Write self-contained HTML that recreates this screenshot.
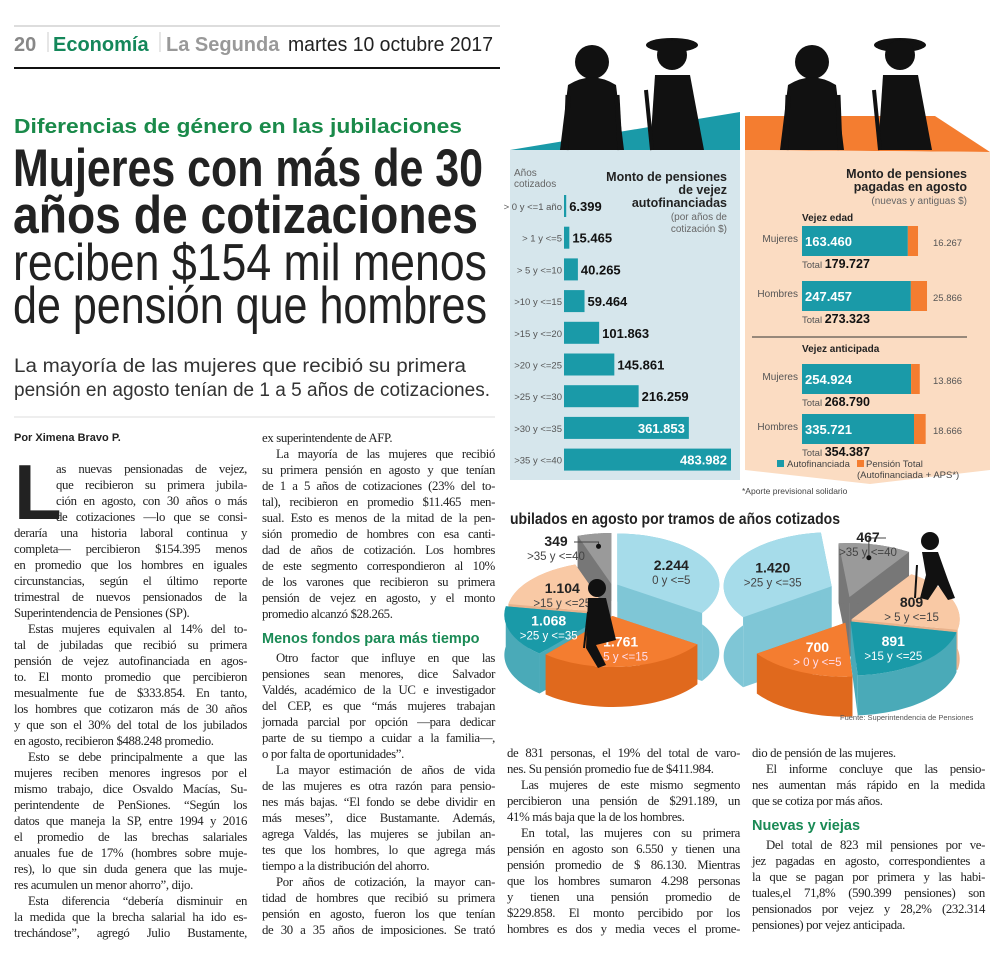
<!DOCTYPE html>
<html><head><meta charset="utf-8">
<style>
html,body{margin:0;padding:0;background:#fff;}
body{width:1000px;height:959px;position:relative;overflow:hidden;font-family:"Liberation Serif",serif;}
.col{position:absolute;font-family:"Liberation Serif",serif;font-size:12.8px;letter-spacing:-0.35px;line-height:16px;color:#222;}
.col div{white-space:nowrap;text-align:justify;text-align-last:justify;height:16px;}
.col div.l{text-align-last:left;}
.col div.i{text-indent:14px;}
.sub{font-family:"Liberation Sans",sans-serif;font-weight:bold;color:#1a8a55;font-size:14.5px;letter-spacing:0;text-align-last:left !important;height:22px !important;line-height:22px;}
svg text{font-family:"Liberation Sans",sans-serif;}
</style></head>
<body>
<svg width="500" height="420" style="position:absolute;left:0;top:0">
<line x1="14" y1="26" x2="985" y2="26" stroke="#bbb" stroke-width="1"/>
<text x="14" y="51" font-size="20" font-weight="bold" fill="#888">20</text>
<line x1="48" y1="32" x2="48" y2="52" stroke="#ccc"/>
<text x="53" y="51" font-size="20" font-weight="bold" fill="#14875a">Economía</text>
<line x1="160" y1="32" x2="160" y2="52" stroke="#ccc"/>
<text x="166" y="51" font-size="20" font-weight="bold" fill="#999">La Segunda</text>
<text x="288" y="51" font-size="20" fill="#222" textLength="205" lengthAdjust="spacingAndGlyphs">martes 10 octubre 2017</text>
<line x1="14" y1="68" x2="500" y2="68" stroke="#111" stroke-width="2"/>
<text x="14" y="133" font-size="20" font-weight="bold" fill="#1a8a4a" textLength="448" lengthAdjust="spacingAndGlyphs">Diferencias de género en las jubilaciones</text>
<text x="13" y="186" font-size="53" font-weight="bold" fill="#222" textLength="470" lengthAdjust="spacingAndGlyphs">Mujeres con más de 30</text>
<text x="13" y="233" font-size="53" font-weight="bold" fill="#222" textLength="465" lengthAdjust="spacingAndGlyphs">años de cotizaciones</text>
<text x="13" y="280" font-size="52" fill="#222" textLength="474" lengthAdjust="spacingAndGlyphs">reciben $154 mil menos</text>
<text x="13" y="323" font-size="52" fill="#222" textLength="474" lengthAdjust="spacingAndGlyphs">de pensión que hombres</text>
<text x="14" y="372" font-size="19" fill="#333" textLength="452" lengthAdjust="spacingAndGlyphs">La mayoría de las mujeres que recibió su primera</text>
<text x="14" y="396" font-size="19" fill="#333" textLength="476" lengthAdjust="spacingAndGlyphs">pensión en agosto tenían de 1 a 5 años de cotizaciones.</text>
<line x1="14" y1="417" x2="495" y2="417" stroke="#ddd"/>
</svg>

<div class="col" style="left:14px;top:430px;width:233px">
<div class="l" style="font-family:'Liberation Sans',sans-serif;font-weight:bold;font-size:11px;letter-spacing:0">Por Ximena Bravo P.</div>
<div style="height:15px"></div>
<span style="position:absolute;left:0;top:29px;font-family:'Liberation Sans',sans-serif;font-weight:bold;font-size:78px;line-height:66px;letter-spacing:0;color:#222">L</span>
<div style="margin-left:42px">as nuevas pensionadas de vejez,</div>
<div style="margin-left:42px">que recibieron su primera jubila-</div>
<div style="margin-left:42px">ción en agosto, con 30 años o más</div>
<div style="margin-left:42px">de cotizaciones —lo que se consi-</div>
<div>deraría una historia laboral continua y</div>
<div>completa— percibieron $154.395 menos</div>
<div>en promedio que los hombres en iguales</div>
<div>circunstancias, según el último reporte</div>
<div>trimestral de nuevos pensionados de la</div>
<div class="l">Superintendencia de Pensiones (SP).</div>
<div class="i">Estas mujeres equivalen al 14% del to-</div>
<div>tal de jubiladas que recibió su primera</div>
<div>pensión de vejez autofinanciada en agos-</div>
<div>to. El monto promedio que percibieron</div>
<div>mesualmente fue de $333.854. En tanto,</div>
<div>los hombres que cotizaron más de 30 años</div>
<div>y que son el 30% del total de los jubilados</div>
<div class="l">en agosto, recibieron $488.248 promedio.</div>
<div class="i">Esto se debe principalmente a que las</div>
<div>mujeres reciben menores ingresos por el</div>
<div>mismo trabajo, dice Osvaldo Macías, Su-</div>
<div>perintendente de PenSiones. “Según los</div>
<div>datos que maneja la SP, entre 1994 y 2016</div>
<div>el promedio de las brechas salariales</div>
<div>anuales fue de 17% (hombres sobre muje-</div>
<div>res), lo que sin duda genera que las muje-</div>
<div class="l">res acumulen un menor ahorro”, dijo.</div>
<div class="i">Esta diferencia “debería disminuir en</div>
<div>la medida que la brecha salarial ha ido es-</div>
<div>trechándose”, agregó Julio Bustamente,</div>
</div>

<div class="col" style="left:262px;top:430px;width:233px">
<div class="l">ex superintendente de AFP.</div>
<div class="i">La mayoría de las mujeres que recibió</div>
<div>su primera pensión en agosto y que tenían</div>
<div>de 1 a 5 años de cotizaciones (23% del to-</div>
<div>tal), recibieron en promedio $11.465 men-</div>
<div>sual. Esto es menos de la mitad de la pen-</div>
<div>sión promedio de hombres con esa canti-</div>
<div>dad de años de cotización. Los hombres</div>
<div>de este segmento correspondieron al 10%</div>
<div>de los varones que recibieron su primera</div>
<div>pensión de vejez en agosto, y el monto</div>
<div class="l">promedio alcanzó $28.265.</div>
<div class="sub" style="margin-top:6px">Menos fondos para más tiempo</div>
<div class="i">Otro factor que influye en que las</div>
<div>pensiones sean menores, dice Salvador</div>
<div>Valdés, académico de la UC e investigador</div>
<div>del CEP, es que “más mujeres trabajan</div>
<div>jornada parcial por opción —para dedicar</div>
<div>parte de su tiempo a cuidar a la familia—,</div>
<div class="l">o por falta de oportunidades”.</div>
<div class="i">La mayor estimación de años de vida</div>
<div>de las mujeres es otra razón para pensio-</div>
<div>nes más bajas. “El fondo se debe dividir en</div>
<div>más meses”, dice Bustamante. Además,</div>
<div>agrega Valdés, las mujeres se jubilan an-</div>
<div>tes que los hombres, lo que agrega más</div>
<div class="l">tiempo a la distribución del ahorro.</div>
<div class="i">Por años de cotización, la mayor can-</div>
<div>tidad de hombres que recibió su primera</div>
<div>pensión en agosto, fueron los que tenían</div>
<div>de 30 a 35 años de imposiciones. Se trató</div>
</div>

<div class="col" style="left:507px;top:745px;width:233px">
<div>de 831 personas, el 19% del total de varo-</div>
<div class="l">nes. Su pensión promedio fue de $411.984.</div>
<div class="i">Las mujeres de este mismo segmento</div>
<div>percibieron una pensión de $291.189, un</div>
<div class="l">41% más baja que la de los hombres.</div>
<div class="i">En total, las mujeres con su primera</div>
<div>pensión en agosto son 6.550 y tienen una</div>
<div>pensión promedio de $ 86.130. Mientras</div>
<div>que los hombres sumaron 4.298 personas</div>
<div>y tienen una pensión promedio de</div>
<div>$229.858. El monto percibido por los</div>
<div>hombres es dos y media veces el prome-</div>
</div>

<div class="col" style="left:752px;top:745px;width:233px">
<div class="l">dio de pensión de las mujeres.</div>
<div class="i">El informe concluye que las pensio-</div>
<div>nes aumentan más rápido en la medida</div>
<div class="l">que se cotiza por más años.</div>
<div class="sub" style="margin-top:6px">Nuevas y viejas</div>
<div class="i">Del total de 823 mil pensiones por ve-</div>
<div>jez pagadas en agosto, correspondientes a</div>
<div>la que se pagan por primera y las habi-</div>
<div>tuales,el 71,8% (590.399 pensiones) son</div>
<div>pensionados por vejez y 28,2% (232.314</div>
<div class="l">pensiones) por vejez anticipada.</div>
</div>

<svg id="chart" width="1000" height="740" style="position:absolute;left:0;top:0">
<polygon points="510,150 740,112 740,150" fill="#1a9aa8"/>
<polygon points="745,150 745,116 935,116 990,152" fill="#f47d30"/>
<rect x="510" y="150" width="230" height="330" fill="#d6e6ec"/>
<polygon points="745,150 990,152 990,470 870,484 745,470" fill="#fbdcc2"/>
<g fill="#111" stroke="#111">
 <circle cx="592" cy="62" r="17" stroke="none"/>
 <path d="M568,85 Q592,70 616,85 L624,150 L560,150 Z" stroke="none"/>
 <line x1="568" y1="95" x2="566" y2="150" stroke-width="5"/>
 <line x1="617" y1="95" x2="620" y2="150" stroke-width="5"/>
 <ellipse cx="672" cy="45" rx="26" ry="7" stroke="none"/>
 <circle cx="672" cy="55" r="15" stroke="none"/>
 <path d="M655,75 L690,75 L704,150 L650,150 Z" stroke="none"/>
 <line x1="646" y1="90" x2="652" y2="150" stroke-width="4"/>
 <circle cx="812" cy="62" r="17" stroke="none"/>
 <path d="M788,85 Q812,70 836,85 L844,150 L780,150 Z" stroke="none"/>
 <line x1="788" y1="95" x2="786" y2="150" stroke-width="5"/>
 <line x1="838" y1="95" x2="840" y2="150" stroke-width="5"/>
 <ellipse cx="900" cy="45" rx="26" ry="7" stroke="none"/>
 <circle cx="900" cy="55" r="15" stroke="none"/>
 <path d="M883,75 L918,75 L932,150 L878,150 Z" stroke="none"/>
 <line x1="874" y1="90" x2="880" y2="150" stroke-width="4"/>
</g>
<text x="514" y="176" font-size="10" fill="#666">Años</text>
<text x="514" y="187" font-size="10" fill="#666">cotizados</text>
<g text-anchor="end">
<text x="727" y="181" font-size="12.5" font-weight="bold" fill="#222">Monto de pensiones</text>
<text x="727" y="194" font-size="12.5" font-weight="bold" fill="#222">de vejez</text>
<text x="727" y="207" font-size="12.5" font-weight="bold" fill="#222">autofinanciadas</text>
<text x="727" y="220" font-size="10" fill="#666">(por años de</text>
<text x="727" y="232" font-size="10" fill="#666">cotización $)</text>
</g>
<g id="bars"></g>
<g text-anchor="end">
<text x="967" y="178" font-size="12.5" font-weight="bold" fill="#222">Monto de pensiones</text>
<text x="967" y="191" font-size="12.5" font-weight="bold" fill="#222">pagadas en agosto</text>
<text x="967" y="204" font-size="10" fill="#666">(nuevas y antiguas $)</text>
</g>
<text x="802" y="221" font-size="10" font-weight="bold" fill="#222">Vejez edad</text>
<line x1="752" y1="337" x2="967" y2="337" stroke="#333"/>
<text x="802" y="352" font-size="10" font-weight="bold" fill="#222">Vejez anticipada</text>
<g id="stack"></g>
<g>
<rect x="777" y="460" width="7" height="7" fill="#1a9aa8"/>
<text x="787" y="467" font-size="9.5" fill="#444">Autofinanciada</text>
<rect x="857" y="460" width="7" height="7" fill="#f47d30"/>
<text x="866" y="467" font-size="9.5" fill="#444">Pensión Total</text>
<text x="857" y="478" font-size="9.5" fill="#444">(Autofinanciada + APS*)</text>
</g>
<text x="742" y="494" font-size="8.5" fill="#444">*Aporte previsional solidario</text>
<text x="510" y="524" font-size="16" font-weight="bold" fill="#222" textLength="330" lengthAdjust="spacingAndGlyphs">ubilados en agosto por tramos de años cotizados</text>
<g id="pies"></g>
<g fill="#111" stroke="#111">
 <circle cx="597" cy="588" r="9" stroke="none"/>
 <path d="M588,598 L606,598 L616,640 L596,645 L606,665 L598,668 L586,648 Z" stroke="none"/>
 <line x1="588" y1="612" x2="584" y2="648" stroke-width="2"/>
 <circle cx="930" cy="541" r="9" stroke="none"/>
 <path d="M922,552 L938,552 L948,580 L955,598 L948,600 L938,585 L928,600 L920,598 L926,575 Z" stroke="none"/>
 <line x1="917" y1="565" x2="915" y2="598" stroke-width="2"/>
</g>
<text x="840" y="720" font-size="7.5" fill="#555">Fuente: Superintendencia de Pensiones</text>
</svg>

<script>
// Bar chart data
var barCats = ["> 0 y <=1 año", "> 1 y <=5", "> 5 y <=10", ">10 y <=15", ">15 y <=20", ">20 y <=25", ">25 y <=30", ">30 y <=35", ">35 y <=40"];
var barVals = [6399, 15465, 40265, 59464, 101863, 145861, 216259, 361853, 483982];
var barLabels = ["6.399", "15.465", "40.265", "59.464", "101.863", "145.861", "216.259", "361.853", "483.982"];
// Stacked bars data
var groupNames = ["Mujeres", "Hombres", "Mujeres", "Hombres"];
var autofin = [163460, 247457, 254924, 335721];
var autofinLabels = ["163.460", "247.457", "254.924", "335.721"];
var aps = [16267, 25866, 13866, 18666];
var apsLabels = ["16.267", "25.866", "13.866", "18.666"];
var totalLabels = ["179.727", "273.323", "268.790", "354.387"];
// Pie data
var womenCats = ["0 y <=5", "> 5 y <=15", ">25 y <=35", ">15 y <=25", ">35 y <=40"];
var womenVals = [2244, 1761, 1068, 1104, 349];
var womenLabels = ["2.244", "1.761", "1.068", "1.104", "349"];
var menCats = [">35 y <=40", "> 5 y <=15", ">15 y <=25", "> 0 y <=5", ">25 y <=35"];
var menVals = [467, 809, 891, 700, 1420];
var menLabels = ["467", "809", "891", "700", "1.420"];

var NS = "http://www.w3.org/2000/svg";
function mk(tag, attrs, parent, txt) {
  var e = document.createElementNS(NS, tag);
  for (var k in attrs) e.setAttribute(k, attrs[k]);
  if (txt !== undefined) e.textContent = txt;
  parent.appendChild(e);
  return e;
}

// ---- horizontal bars
var bars = document.getElementById("bars");
var bx0 = 564, bw = 167;
var bmax = Math.max.apply(null, barVals);
function xBar(v) { return bw * v / bmax; }
function yBar(i) { return 206 + i * 31.7; }
for (var i = 0; i < barVals.length; i++) {
  var w = Math.max(2, xBar(barVals[i]));
  var r = mk("rect", {x: bx0, y: yBar(i) - 11, width: w, height: 22, fill: "#1a9aa8"}, bars);
  
  
  var lt = mk("text", {x: bx0 - 2, y: yBar(i) + 4, "font-size": 9.5, fill: "#555", "text-anchor": "end"}, bars, barCats[i]);
  
  
  var inside = w > 110;
  var vt = mk("text", {x: inside ? bx0 + w - 4 : bx0 + w + 3, y: yBar(i) + 5, "font-size": 13, "font-weight": "bold", fill: inside ? "#fff" : "#111", "text-anchor": inside ? "end" : "start"}, bars, barLabels[i]);
  
  
}

// ---- stacked bars
var st = document.getElementById("stack");
var sx0 = 802;
var amax = Math.max.apply(null, autofin);
function wAuto(v) { return 100 + 12 * v / amax; }
function wAps(v) { return v / 1600; }
var sy = [226, 281, 364, 414];
for (var j = 0; j < autofin.length; j++) {
  var wa = wAuto(autofin[j]), wp = wAps(aps[j]);
  var ra = mk("rect", {x: sx0, y: sy[j], width: wa, height: 30, fill: "#1a9aa8"}, st);
  
  
  var rp = mk("rect", {x: sx0 + wa, y: sy[j], width: wp, height: 30, fill: "#f47d30"}, st);
  
  
  var gl = mk("text", {x: sx0 - 4, y: sy[j] + 16, "font-size": 10, fill: "#555", "text-anchor": "end"}, st, groupNames[j]);
  
  
  var av = mk("text", {x: sx0 + 3, y: sy[j] + 20, "font-size": 13, "font-weight": "bold", fill: "#fff"}, st, autofinLabels[j]);
  
  
  var pv = mk("text", {x: 933, y: sy[j] + 20, "font-size": 9.5, fill: "#555"}, st, apsLabels[j]);
  
  
  var tt = mk("text", {x: sx0, y: sy[j] + 42, "font-size": 12.5, "font-weight": "bold", fill: "#111"}, st);
  
  
  mk("tspan", {"font-size": 9.5, "font-weight": "normal", fill: "#555"}, tt, "Total ");
  mk("tspan", {}, tt, totalLabels[j]);
}

// ---- 3D pies
var pies = document.getElementById("pies");
function drawPie(cx, cy, R, k, depth, vals, labels, cats, tops, sides, start, lifts, explode, txtCols, name, smallPos) {
  var g = mk("g", {}, pies);
  
  
  var tot = vals.reduce(function (a, b) { return a + b; }, 0);
  var sl = [], a = start;
  for (var i = 0; i < vals.length; i++) {
    var sweep = vals[i] / tot * Math.PI * 2;
    sl.push({i: i, a0: a, a1: a + sweep, m: a + sweep / 2});
    a += sweep;
  }
  var order = sl.slice().sort(function (p, q) { return Math.sin(p.m) - Math.sin(q.m); });
  order.forEach(function (s) {
    var i = s.i;
    var ox = explode[i] * Math.cos(s.m), oy = explode[i] * k * Math.sin(s.m);
    var zt = -lifts[i], zb = depth;
    function P(ang, rr, z) { return [cx + ox + rr * Math.cos(ang), cy + oy + rr * k * Math.sin(ang) + z]; }
    var sg = mk("g", {}, g);
    
    
    [s.a0, s.a1].forEach(function (ang) {
      var c1 = P(ang, 0, zt), c2 = P(ang, R, zt), c3 = P(ang, R, zb), c4 = P(ang, 0, zb);
      mk("polygon", {points: [c1, c2, c3, c4].map(function (p) { return p.join(","); }).join(" "), fill: sides[i]}, sg);
    });
    var n = 40, pts = [], j;
    for (j = 0; j <= n; j++) pts.push(P(s.a0 + (s.a1 - s.a0) * j / n, R, zt));
    for (j = n; j >= 0; j--) pts.push(P(s.a0 + (s.a1 - s.a0) * j / n, R, zb));
    mk("polygon", {points: pts.map(function (p) { return p.join(","); }).join(" "), fill: sides[i]}, sg);
    var tp = [P(0, 0, zt)];
    for (j = 0; j <= n; j++) tp.push(P(s.a0 + (s.a1 - s.a0) * j / n, R, zt));
    mk("polygon", {points: tp.map(function (p) { return p.join(","); }).join(" "), fill: tops[i]}, sg);
  });
  sl.forEach(function (s) {
    var i = s.i;
    var frac = vals[i] / tot;
    var ox = explode[i] * Math.cos(s.m), oy = explode[i] * k * Math.sin(s.m);
    var px = cx + ox + R * 0.75 * Math.cos(s.m);
    var py = cy + oy + R * 0.75 * k * Math.sin(s.m) - lifts[i];
    var lx, ly;
    if (frac < 0.12) {
      lx = smallPos[0]; ly = smallPos[1];
      var ld = mk("polyline", {points: (lx + 18) + "," + (ly - 4) + " " + px + "," + (ly - 4) + " " + px + "," + py, fill: "none", stroke: "#444", "stroke-width": 1}, g);
      
      
      mk("circle", {cx: px, cy: py, r: 2.5, fill: "#111"}, g);
    } else {
      lx = cx + ox + R * 0.6 * Math.cos(s.m);
      ly = cy + oy + R * 0.6 * k * Math.sin(s.m) - lifts[i];
    }
    var t1 = mk("text", {x: lx, y: ly, "font-size": 14, "font-weight": "bold", fill: txtCols[i][0], "text-anchor": "middle"}, g, labels[i]);
    
    
    var t2 = mk("text", {x: lx, y: ly + 14, "font-size": 11.5, fill: txtCols[i][1], "text-anchor": "middle"}, g, cats[i]);
    
    
  });
}
drawPie(612, 614, 102, 0.5, 40, womenVals, womenLabels, womenCats,
  ["#a6dcea", "#f47d30", "#1a9aa8", "#f9c9a5", "#9a9a9a"],
  ["#7fc6d6", "#e0691d", "#4aaab8", "#e8b28c", "#777"],
  -Math.PI / 2, [28, 0, 0, 0, 28], [6, 4, 6, 4, 4],
  [["#222", "#444"], ["#fff", "#fde"], ["#fff", "#fff"], ["#222", "#444"], ["#222", "#444"]], "women-pie", [556, 546]);
drawPie(848, 620, 108, 0.5, 40, menVals, menLabels, menCats,
  ["#9a9a9a", "#f9c9a5", "#1a9aa8", "#f47d30", "#a6dcea"],
  ["#777", "#e8b28c", "#4aaab8", "#e0691d", "#7fc6d6"],
  -Math.PI / 2 - 0.1, [20, 0, 0, 0, 30], [6, 4, 4, 6, 18],
  [["#222", "#444"], ["#222", "#444"], ["#fff", "#fff"], ["#fff", "#fde"], ["#222", "#444"]], "men-pie", [868, 542]);
</script>
</body></html>
